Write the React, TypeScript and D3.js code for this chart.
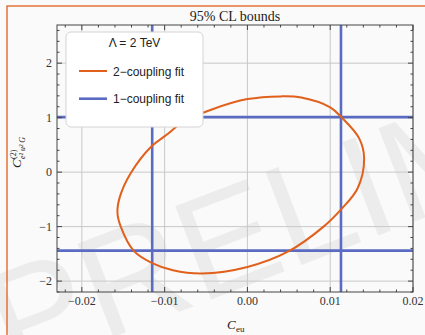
import * as d3 from 'd3';

// contour of the 2-coupling fit (C_eu, C_e2u2G)
const ellipseX = [0.004, 0.0, -0.0043, -0.0077, -0.0098, -0.0116, -0.0141, -0.0154, -0.0157, -0.0153, -0.0137, -0.0115, -0.009, -0.0055, 0.0, 0.005, 0.0092, 0.0114, 0.0133, 0.0141, 0.0135, 0.0114, 0.01, 0.0065];
const ellipseY = [1.39, 1.34, 1.15, 0.93, 0.68, 0.47, -0.02, -0.45, -0.74, -1.0, -1.45, -1.67, -1.8, -1.86, -1.74, -1.45, -1.0, -0.67, -0.3, 0.25, 0.62, 1.0, 1.19, 1.37];

// 1-coupling fit bounds
const oneCouplingX = [-0.0115, 0.0113];
const oneCouplingY = [1.01, -1.44];

const xTicks = [-0.02, -0.01, 0, 0.01, 0.02];
const xTickLabels = ['\u22120.02', '\u22120.01', '0.00', '0.01', '0.02'];
const yTicks = [-2, -1, 0, 1, 2];
const yTickLabels = ['\u22122', '\u22121', '0', '1', '2'];

const ORANGE = '#e0601c';
const BLUE = '#5b6bc2';
const SERIF = '"Liberation Serif", "Times New Roman", serif';
const SANS = '"Liberation Sans", Arial, sans-serif';

const W = 425;
const H = 335;
const left = 57, right = 413, top = 25, bottom = 292;

export default function App() {
  const x = d3.scaleLinear().domain([-0.023, 0.02]).range([left, right]);
  const y = d3.scaleLinear().domain([-2.2, 2.7]).range([bottom, top]);

  const pts: [number, number][] = ellipseX.map((v, i) => [v, ellipseY[i]]);
  const line = d3.line<[number, number]>()
    .x(d => x(d[0]))
    .y(d => y(d[1]))
    .curve(d3.curveCatmullRomClosed.alpha(0.5));

  const xMinor = d3.range(-0.022, 0.0201, 0.002).filter(v => !xTicks.some(t => Math.abs(t - v) < 1e-6));
  const yMinor = d3.range(-2.2, 2.71, 0.2).filter(v => !yTicks.some(t => Math.abs(t - v) < 1e-6));

  return (
    <svg width={W} height={H} style={{ position: 'fixed', left: 0, top: 0, background: '#fafafa' }}>
      <defs>
        <clipPath id="plot">
          <rect x={left} y={top} width={right - left} height={bottom - top} />
        </clipPath>
      </defs>
      <rect x={0} y={0} width={W} height={H} fill="#fafafa" />

      {/* watermark */}
      <text x={0} y={0} transform="translate(12,376) rotate(-21)" fontFamily={SANS} fontSize={145}
        fill="#ececec">PRELIMINARY</text>

      <rect x={7} y={6} width={500} height={400} fill="none" stroke={ORANGE} strokeWidth={1.3} />

      <text x={(left + right) / 2} y={21} textAnchor="middle" fontFamily={SERIF} fontSize={14} fill="#222">95% CL bounds</text>

      {/* grid */}
      <g stroke="#c8c8c8" strokeWidth={1}>
        {xTicks.map(t => <line key={'gx' + t} x1={x(t)} x2={x(t)} y1={top} y2={bottom} />)}
        {yTicks.map(t => <line key={'gy' + t} x1={left} x2={right} y1={y(t)} y2={y(t)} />)}
      </g>

      <g clipPath="url(#plot)">
        {oneCouplingX.map(v => <line key={'bx' + v} x1={x(v)} x2={x(v)} y1={top} y2={bottom} stroke={BLUE} strokeWidth={2.6} />)}
        {oneCouplingY.map(v => <line key={'by' + v} x1={left} x2={right} y1={y(v)} y2={y(v)} stroke={BLUE} strokeWidth={2.6} />)}
        <path d={line(pts) ?? ''} fill="none" stroke={ORANGE} strokeWidth={2} />
      </g>

      {/* frame and ticks */}
      <rect x={left} y={top} width={right - left} height={bottom - top} fill="none" stroke="#444" strokeWidth={1} />
      <g stroke="#444" strokeWidth={1}>
        {xTicks.map(t => (
          <g key={'xt' + t}>
            <line x1={x(t)} x2={x(t)} y1={bottom} y2={bottom - 5} />
            <line x1={x(t)} x2={x(t)} y1={top} y2={top + 5} />
          </g>
        ))}
        {xMinor.map(t => (
          <g key={'xm' + t}>
            <line x1={x(t)} x2={x(t)} y1={bottom} y2={bottom - 2.5} />
            <line x1={x(t)} x2={x(t)} y1={top} y2={top + 2.5} />
          </g>
        ))}
        {yTicks.map(t => (
          <g key={'yt' + t}>
            <line x1={left} x2={left + 5} y1={y(t)} y2={y(t)} />
            <line x1={right} x2={right - 5} y1={y(t)} y2={y(t)} />
          </g>
        ))}
        {yMinor.map(t => (
          <g key={'ym' + t}>
            <line x1={left} x2={left + 2.5} y1={y(t)} y2={y(t)} />
            <line x1={right} x2={right - 2.5} y1={y(t)} y2={y(t)} />
          </g>
        ))}
      </g>

      <g fontFamily={SERIF} fontSize={12} fill="#333">
        {xTicks.map((t, i) => (
          <text key={'xl' + t} x={x(t)} y={305} textAnchor="middle">{xTickLabels[i]}</text>
        ))}
        {yTicks.map((t, i) => (
          <text key={'yl' + t} x={52} y={y(t) + 4} textAnchor="end">{yTickLabels[i]}</text>
        ))}
      </g>

      {/* axis labels */}
      <g fontFamily={SERIF} fill="#222">
        <text x={227} y={329} fontSize={13} fontStyle="italic">C</text>
        <text x={236} y={332} fontSize={9}>eu</text>
      </g>
      <g fontFamily={SERIF} fill="#222" transform="translate(21,168) rotate(-90)">
        <text x={0} y={0} fontSize={13} fontStyle="italic">C</text>
        <text x={9} y={-5} fontSize={8}>(2)</text>
        <text x={9} y={4} fontSize={8} fontStyle="italic">e² u² G</text>
      </g>

      {/* legend */}
      <rect x={66} y={32} width={137} height={95} rx={5} fill="#fff" stroke="#d4d4d4" strokeWidth={1} />
      <g fontFamily={SANS} fontSize={12} fill="#222">
        <text x={134.5} y={47} textAnchor="middle">Λ = 2 TeV</text>
        <line x1={79} x2={107} y1={71} y2={71} stroke={ORANGE} strokeWidth={2} />
        <text x={113} y={75.5}>2−coupling fit</text>
        <line x1={79} x2={107} y1={98.7} y2={98.7} stroke={BLUE} strokeWidth={2.6} />
        <text x={113} y={103}>1−coupling fit</text>
      </g>
    </svg>
  );
}
